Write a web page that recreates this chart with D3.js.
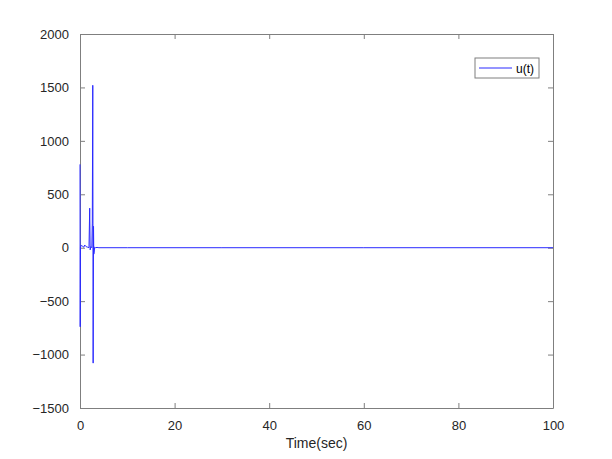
<!DOCTYPE html>
<html><head><meta charset="utf-8">
<script src="https://cdn.jsdelivr.net/npm/d3@7"></script>
<style>body{margin:0;background:#fff;} svg{display:block;}</style>
</head><body>
<svg id="c" width="612" height="459"></svg>
<script>
const timeValues = [0, 0.04, 0.1, 0.2, 0.5, 0.8, 1.0, 1.3, 1.6, 1.9, 2.05, 2.15, 2.3, 2.5, 2.6, 2.7, 2.78, 2.86, 2.92, 3.0, 3.1, 3.3, 3.6, 4.0, 10, 30, 60, 100];
const uValues    = [780, -740, 10, 20, 15, 5, 25, 10, 5, 0, 370, -20, 10, 0, 230, 1520, -1080, 200, -60, -40, 5, 0, 3, 0, 0, 0, 0, 0];
const xTicks = [0, 20, 40, 60, 80, 100];
const yTicks = [-1500, -1000, -500, 0, 500, 1000, 1500, 2000];
const seriesName = "u(t)";
const xLabel = "Time(sec)";

const svg = d3.select("#c");
const L = 80, R = 553, T = 34, B = 408;
const x = d3.scaleLinear().domain([0, 100]).range([L, R]);
const y = d3.scaleLinear().domain([-1500, 2000]).range([B, T]);
const axisColor = "#262626";
const font = "Liberation Sans, Arial, sans-serif";
const fmt = d3.format("d");

svg.append("rect").attr("x", 0).attr("y", 0).attr("width", 612).attr("height", 459).attr("fill", "#fff");

function styleAxis(g) {
  g.selectAll("path.domain").attr("stroke", "#7f7f7f");
  g.selectAll(".tick line").attr("stroke", "#7f7f7f");
  g.selectAll("text").attr("fill", axisColor).attr("font-size", 13).attr("font-family", font);
}
// bottom
const gb = svg.append("g").attr("transform", `translate(0,${B})`)
  .call(d3.axisBottom(x).tickValues(xTicks).tickFormat(fmt).tickSize(-5).tickSizeOuter(0).tickPadding(13));
styleAxis(gb);
// top
const gt = svg.append("g").attr("transform", `translate(0,${T})`)
  .call(d3.axisTop(x).tickValues(xTicks).tickSize(-5).tickSizeOuter(0).tickFormat(""));
styleAxis(gt);
// left
const gl = svg.append("g").attr("transform", `translate(${L},0)`)
  .call(d3.axisLeft(y).tickValues(yTicks).tickFormat(fmt).tickSize(-5).tickSizeOuter(0).tickPadding(11));
styleAxis(gl);
// right
const gr = svg.append("g").attr("transform", `translate(${R},0)`)
  .call(d3.axisRight(y).tickValues(yTicks).tickSize(-5).tickSizeOuter(0).tickFormat(""));
styleAxis(gr);

// data line (drawn above axes)
const pts = timeValues.map((t, i) => [t, uValues[i]]);
svg.append("path").datum(pts)
  .attr("d", d3.line().x(d => x(d[0])).y(d => y(d[1])))
  .attr("fill", "none").attr("stroke", "#2a2aff").attr("stroke-width", 1);

svg.append("text").attr("x", (L + R) / 2).attr("y", 448).attr("text-anchor", "middle")
  .attr("font-family", font).attr("font-size", 14).attr("fill", axisColor).text(xLabel);

// legend
const lg = svg.append("g");
lg.append("rect").attr("x", 475).attr("y", 58).attr("width", 64).attr("height", 20)
  .attr("fill", "#fff").attr("stroke", "#7f7f7f").attr("stroke-width", 1);
lg.append("line").attr("x1", 479).attr("x2", 512).attr("y1", 68).attr("y2", 68)
  .attr("stroke", "#2a2aff").attr("stroke-width", 1);
lg.append("text").attr("x", 516).attr("y", 72.5).attr("font-family", font).attr("font-size", 12)
  .attr("fill", "#000").text(seriesName);
</script>
</body></html>
